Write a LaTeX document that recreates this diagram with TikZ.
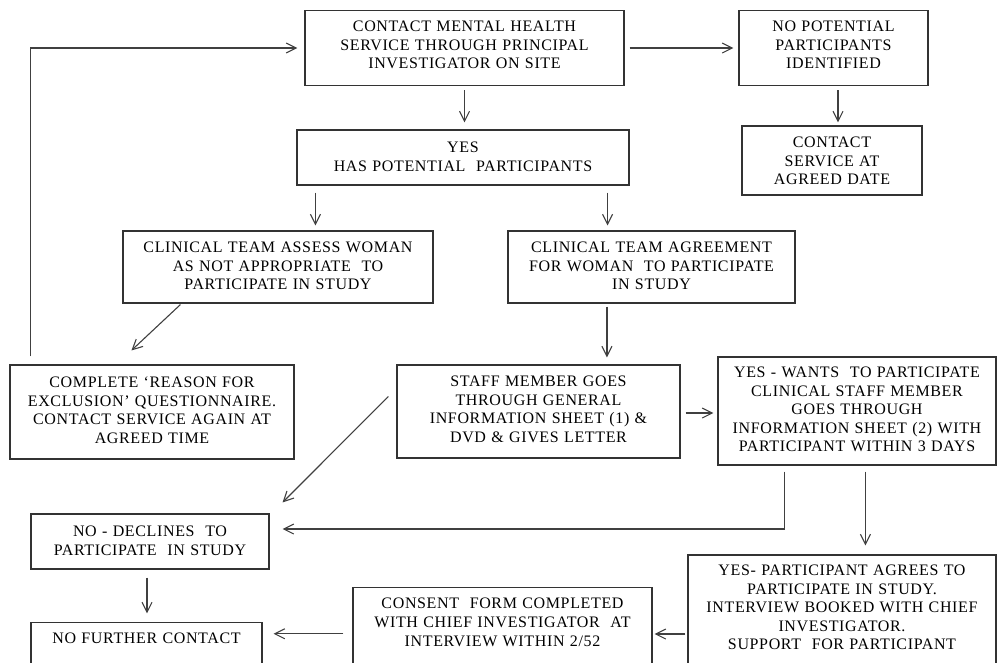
\documentclass[tikz,border=0pt]{standalone}
\usepackage{fontspec}
\setmainfont{Liberation Serif}[LetterSpace=4]
\usetikzlibrary{arrows.meta}
\begin{document}
\begin{tikzpicture}[x=1pt,y=-1pt,
  box/.style={draw=black!80, line width=1.1pt, align=center, inner sep=0pt, anchor=base,
    font=\fontsize{16}{18.6}\selectfont},
  arr/.style={draw=black!75, line width=1.1pt, -{Straight Barb[length=10pt,width=10pt]}}]
\useasboundingbox (0,0) rectangle (997,662);
\clip (0,0) rectangle (997,662);

\node[box, text width=319pt, text height=21pt, text depth=54pt] (a) at (464.5,31.5)
  {CONTACT MENTAL HEALTH\\SERVICE THROUGH PRINCIPAL\\INVESTIGATOR ON SITE};
\node[box, text width=189pt, text height=21pt, text depth=54pt] (b) at (833.5,31.5)
  {NO POTENTIAL\\PARTICIPANTS\\IDENTIFIED};
\node[box, text width=180pt, text height=21.5pt, text depth=47.5pt] (c) at (832,147.5)
  {CONTACT\\SERVICE AT\\AGREED DATE};
\node[box, text width=332pt, text height=22.5pt, text depth=32.5pt] (d) at (463,152.5)
  {YES\\HAS POTENTIAL\ \ PARTICIPANTS};
\node[box, text width=310pt, text height=21.5pt, text depth=50.5pt] (e) at (278,252.5)
  {CLINICAL TEAM ASSESS WOMAN\\AS NOT APPROPRIATE\ \ TO\\PARTICIPATE IN STUDY};
\node[box, text width=287pt, text height=21.5pt, text depth=50.5pt] (f) at (651.5,252.5)
  {CLINICAL TEAM AGREEMENT\\FOR WOMAN\ \ TO PARTICIPATE\\IN STUDY};
\node[box, text width=284pt, text height=22.5pt, text depth=71.5pt] (g) at (152,387.5)
  {COMPLETE ‘REASON FOR\\EXCLUSION’ QUESTIONNAIRE.\\CONTACT SERVICE AGAIN AT\\AGREED TIME};
\node[box, text width=283pt, text height=21.5pt, text depth=71.5pt] (h) at (538.5,386.5)
  {STAFF MEMBER GOES\\THROUGH GENERAL\\INFORMATION SHEET (1) \&\\DVD \& GIVES LETTER};
\node[box, text width=278pt, text height=20.5pt, text depth=87.5pt] (i) at (857,377.5)
  {YES - WANTS\ \ TO PARTICIPATE\\CLINICAL STAFF MEMBER\\GOES THROUGH\\INFORMATION SHEET (2) WITH\\PARTICIPANT WITHIN 3 DAYS};
\node[box, text width=238pt, text height=22.5pt, text depth=32.5pt] (j) at (150,536.5)
  {NO - DECLINES\ \ TO\\PARTICIPATE\ \ IN STUDY};
\node[box, text width=308pt, text height=20.5pt, text depth=104.5pt] (k) at (842,575.5)
  {YES- PARTICIPANT AGREES TO\\PARTICIPATE IN STUDY.\\INTERVIEW BOOKED WITH CHIEF\\INVESTIGATOR.\\SUPPORT\ \ FOR PARTICIPANT};
\node[box, text width=299pt, text height=21.3pt, text depth=71.2pt] (l) at (502.5,608.8)
  {CONSENT\ \ FORM COMPLETED\\WITH CHIEF INVESTIGATOR\ \ AT\\INTERVIEW WITHIN 2/52};
\node[box, text width=231pt, text height=21.3pt, text depth=36.2pt] (m) at (146.5,643.8)
  {NO FURTHER CONTACT};

% connectors
\draw[arr] ([xshift=21pt,yshift=8pt]g.north west) |- ([xshift=-7pt]a.west);
\draw[arr] ([xshift=5pt]a.east) -- ([xshift=-5pt]b.west);
\draw[arr] ([yshift=-4pt]a.south) -- ([yshift=7pt]a.south |- d.north);
\draw[arr] ([xshift=4.5pt,yshift=-4pt]b.south) -- ([xshift=4.5pt,yshift=3pt]b.south |- c.north);
\draw[arr] ([xshift=19pt,yshift=-7pt]d.south west) -- ([xshift=19pt,yshift=5pt]d.south west |- e.north);
\draw[arr] ([xshift=-22pt,yshift=-7pt]d.south east) -- ([xshift=-22pt,yshift=5pt]d.south east |- f.north);
\draw[arr] ([xshift=58pt,yshift=-1pt]e.south west) -- ([xshift=122pt,yshift=14pt]g.north west);
\draw[arr] ([xshift=99.5pt,yshift=-3pt]f.south west) -- ([xshift=99.5pt,yshift=7pt]f.south west |- h.north);
\draw[arr] ([xshift=5pt,yshift=-1.5pt]h.east) -- ([xshift=-4pt,yshift=-1.5pt]h.east -| i.west);
\draw[arr] ([xshift=-8pt,yshift=-32pt]h.north west) -- ([xshift=13pt,yshift=11pt]j.north east);
\draw[arr] ([xshift=67pt,yshift=-6pt]i.south west) |- ([xshift=13pt,yshift=12.5pt]j.east);
\draw[arr] ([xshift=148pt,yshift=-6pt]i.south west) -- ([xshift=148pt,yshift=9pt]i.south west |- k.north);
\draw[arr] ([xshift=-2pt,yshift=-16.5pt]k.west) -- ([xshift=2pt,yshift=-16.5pt]k.west -| l.east);
\draw[arr] ([xshift=-9pt]l.west) -- ([xshift=11pt]l.west -| m.east);
\draw[arr] ([xshift=-3pt,yshift=-8pt]j.south) -- ([xshift=-3pt,yshift=8.5pt]j.south |- m.north);
\end{tikzpicture}
\end{document}
